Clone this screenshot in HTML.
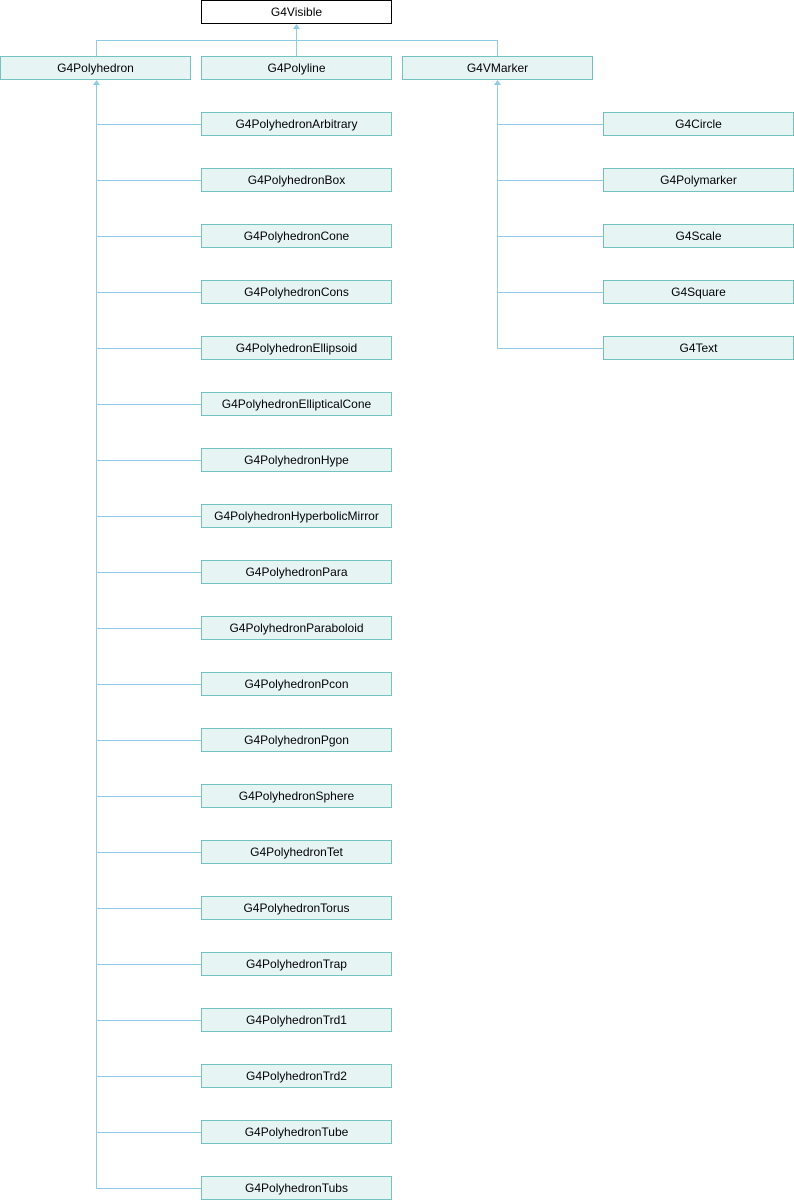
<!DOCTYPE html>
<html><head><style>
html,body{margin:0;padding:0;background:#fff;}
svg{display:block;}
text{font-family:"Liberation Sans",sans-serif;font-size:12px;fill:#000;text-anchor:middle;}
.b{fill:#e6f4f3;stroke:#72c2c0;stroke-width:1;}
.l{stroke:#8ecbe4;stroke-width:1;fill:none;}
.a{fill:#8ecbe4;}
</style></head><body>
<svg width="794" height="1200" xmlns="http://www.w3.org/2000/svg">
<rect x="201.5" y="0.5" width="190" height="23" fill="#fff" stroke="#000"/>
<text x="296.5" y="16">G4Visible</text>
<path class="l" d="M96.5 56V40.5H497.5V56M296.5 56V28"/>
<path class="a" d="M296.5 24l-3.5 5h7z"/>
<rect class="b" x="0.5" y="56.5" width="190" height="23"/><text x="95.5" y="72">G4Polyhedron</text>
<rect class="b" x="201.5" y="56.5" width="190" height="23"/><text x="296.5" y="72">G4Polyline</text>
<rect class="b" x="402.5" y="56.5" width="190" height="23"/><text x="497.5" y="72">G4VMarker</text>
<path class="a" d="M96.5 80l-3.5 5h7z"/>
<path class="a" d="M497.5 80l-3.5 5h7z"/>
<path class="l" d="M96.5 84V1188.5M497.5 84V348.5"/>
<path class="l" d="M96.5 124.5H201M96.5 180.5H201M96.5 236.5H201M96.5 292.5H201M96.5 348.5H201M96.5 404.5H201M96.5 460.5H201M96.5 516.5H201M96.5 572.5H201M96.5 628.5H201M96.5 684.5H201M96.5 740.5H201M96.5 796.5H201M96.5 852.5H201M96.5 908.5H201M96.5 964.5H201M96.5 1020.5H201M96.5 1076.5H201M96.5 1132.5H201M96.5 1188.5H201M497.5 124.5H603M497.5 180.5H603M497.5 236.5H603M497.5 292.5H603M497.5 348.5H603"/>
<g>
<rect class="b" x="201.5" y="112.5" width="190" height="23"/><text x="296.5" y="128">G4PolyhedronArbitrary</text>
<rect class="b" x="201.5" y="168.5" width="190" height="23"/><text x="296.5" y="184">G4PolyhedronBox</text>
<rect class="b" x="201.5" y="224.5" width="190" height="23"/><text x="296.5" y="240">G4PolyhedronCone</text>
<rect class="b" x="201.5" y="280.5" width="190" height="23"/><text x="296.5" y="296">G4PolyhedronCons</text>
<rect class="b" x="201.5" y="336.5" width="190" height="23"/><text x="296.5" y="352">G4PolyhedronEllipsoid</text>
<rect class="b" x="201.5" y="392.5" width="190" height="23"/><text x="296.5" y="408">G4PolyhedronEllipticalCone</text>
<rect class="b" x="201.5" y="448.5" width="190" height="23"/><text x="296.5" y="464">G4PolyhedronHype</text>
<rect class="b" x="201.5" y="504.5" width="190" height="23"/><text x="296.5" y="520">G4PolyhedronHyperbolicMirror</text>
<rect class="b" x="201.5" y="560.5" width="190" height="23"/><text x="296.5" y="576">G4PolyhedronPara</text>
<rect class="b" x="201.5" y="616.5" width="190" height="23"/><text x="296.5" y="632">G4PolyhedronParaboloid</text>
<rect class="b" x="201.5" y="672.5" width="190" height="23"/><text x="296.5" y="688">G4PolyhedronPcon</text>
<rect class="b" x="201.5" y="728.5" width="190" height="23"/><text x="296.5" y="744">G4PolyhedronPgon</text>
<rect class="b" x="201.5" y="784.5" width="190" height="23"/><text x="296.5" y="800">G4PolyhedronSphere</text>
<rect class="b" x="201.5" y="840.5" width="190" height="23"/><text x="296.5" y="856">G4PolyhedronTet</text>
<rect class="b" x="201.5" y="896.5" width="190" height="23"/><text x="296.5" y="912">G4PolyhedronTorus</text>
<rect class="b" x="201.5" y="952.5" width="190" height="23"/><text x="296.5" y="968">G4PolyhedronTrap</text>
<rect class="b" x="201.5" y="1008.5" width="190" height="23"/><text x="296.5" y="1024">G4PolyhedronTrd1</text>
<rect class="b" x="201.5" y="1064.5" width="190" height="23"/><text x="296.5" y="1080">G4PolyhedronTrd2</text>
<rect class="b" x="201.5" y="1120.5" width="190" height="23"/><text x="296.5" y="1136">G4PolyhedronTube</text>
<rect class="b" x="201.5" y="1176.5" width="190" height="23"/><text x="296.5" y="1192">G4PolyhedronTubs</text>
<rect class="b" x="603.5" y="112.5" width="190" height="23"/><text x="698.5" y="128">G4Circle</text>
<rect class="b" x="603.5" y="168.5" width="190" height="23"/><text x="698.5" y="184">G4Polymarker</text>
<rect class="b" x="603.5" y="224.5" width="190" height="23"/><text x="698.5" y="240">G4Scale</text>
<rect class="b" x="603.5" y="280.5" width="190" height="23"/><text x="698.5" y="296">G4Square</text>
<rect class="b" x="603.5" y="336.5" width="190" height="23"/><text x="698.5" y="352">G4Text</text>
</g>
</svg>
</body></html>
